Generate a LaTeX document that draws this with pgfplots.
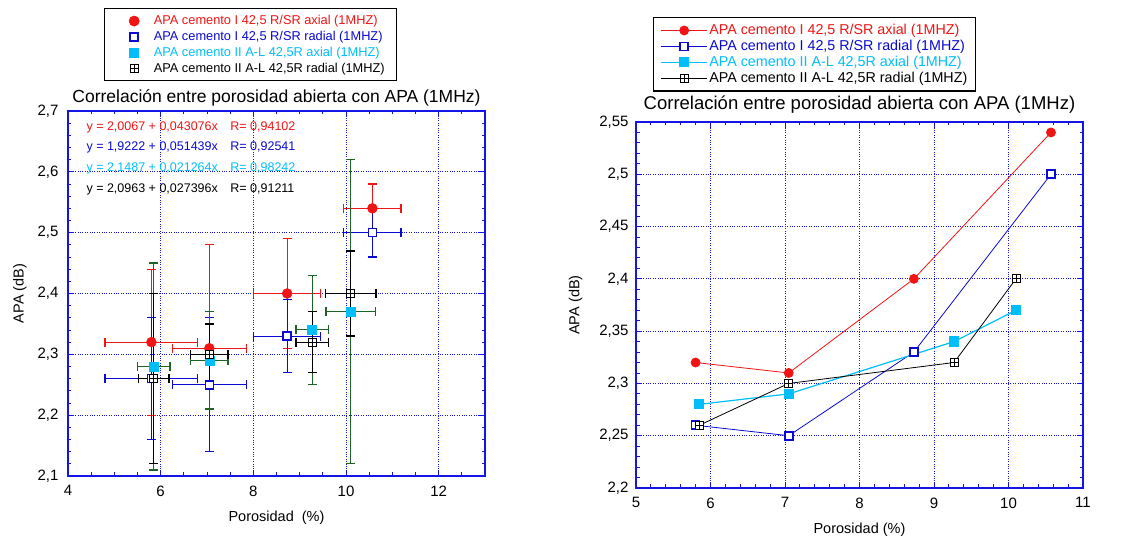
\documentclass[border=0pt]{standalone}
\usepackage{pgfplots}
\pgfplotsset{compat=1.18}
\usepackage{fontspec}
\setmainfont{Liberation Sans}
\definecolor{cRed}{RGB}{240,20,20}
\definecolor{cBlue}{RGB}{10,10,210}
\definecolor{cCyan}{RGB}{0,190,250}
\definecolor{cGreen}{RGB}{30,100,40}
\definecolor{frameBlue}{RGB}{20,20,230}

\pgfdeclareplotmark{boxplus}{%
  \pgfpathrectangle{\pgfpoint{-\pgfplotmarksize}{-\pgfplotmarksize}}{\pgfpoint{2\pgfplotmarksize}{2\pgfplotmarksize}}%
  \pgfusepathqfillstroke
  \pgfpathmoveto{\pgfpoint{-\pgfplotmarksize}{0pt}}\pgfpathlineto{\pgfpoint{\pgfplotmarksize}{0pt}}%
  \pgfpathmoveto{\pgfpoint{0pt}{-\pgfplotmarksize}}\pgfpathlineto{\pgfpoint{0pt}{\pgfplotmarksize}}%
  \pgfusepathqstroke}

\pgfplotstableread{
x y ex ey
5.80 2.32 1.00 0.12
7.05 2.31 0.80 0.17
8.73 2.40 0.72 0.09
10.57 2.54 0.62 0.04
}\redtab
\pgfplotstableread{
x y ex ey
5.80 2.26 1.00 0.10
7.05 2.25 0.80 0.11
8.73 2.33 0.72 0.06
10.57 2.50 0.62 0.04
}\bluetab
\pgfplotstableread{
x y ex ey
5.85 2.28 0.35 0.17
7.05 2.29 0.40 0.08
9.27 2.34 0.35 0.09
10.10 2.37 0.53 0.25
}\cyantab
\pgfplotstableread{
x y ex ey
5.85 2.26 0.33 0.14
7.05 2.30 0.40 0.05
9.27 2.32 0.35 0.05
10.10 2.40 0.55 0.07
}\blacktab

\pgfplotsset{
  refstyle/.style={
    scale only axis,
    axis line style={frameBlue, line width=1.6pt},
    tick style={frameBlue, line width=0.9pt},
    major tick length=6pt, minor tick length=3.5pt,
    tick align=inside,
    grid=major,
    grid style={frameBlue, dotted, line width=1pt},
    ticklabel style={font=\fontsize{15}{17}\selectfont},
    xticklabel style={yshift=-6pt},
    label style={font=\fontsize{14.5}{17}\selectfont},
    /pgf/number format/assume math mode=true,
    /pgf/number format/use comma,
    /pgf/number format/fixed,
    /pgf/number format/precision=2,
    clip=false,
  },
  ebars/.style={error bars/.cd, x dir=both, x explicit, y dir=both, y explicit,
    error bar style={line width=1pt, #1},
    error mark options={rotate=90, mark size=4.5pt, line width=1.3pt, #1}},
}

\begin{document}
\begin{tikzpicture}
\useasboundingbox (0pt,0pt) rectangle (1133pt,540pt);

% ---------- Left axis ----------
\begin{axis}[refstyle,
  at={(68pt,64pt)}, anchor=south west,
  width=417pt, height=365pt,
  xmin=4, xmax=13, ymin=2.1, ymax=2.7,
  xtick={4,6,8,10,12},
  ytick={2.1,2.2,2.3,2.4,2.5,2.6,2.7},
  minor xtick={4.5,5,5.5,6.5,7,7.5,8.5,9,9.5,10.5,11,11.5,12.5},
  minor ytick={2.12,2.14,2.16,2.18,2.22,2.24,2.26,2.28,2.32,2.34,2.36,2.38,2.42,2.44,2.46,2.48,2.52,2.54,2.56,2.58,2.62,2.64,2.66,2.68},
  yticklabel style={xshift=-6pt},
  xlabel={Porosidad \ (\%)}, ylabel={APA (dB)},
  xlabel style={yshift=-8pt},
  ylabel style={yshift=4pt},
  title={Correlación entre porosidad abierta con APA (1MHz)},
  title style={font=\fontsize{17.5}{20}\selectfont, anchor=base, at={(0.5,1)}, yshift=2pt},
  legend style={at={(0.0863,1.282)}, anchor=north west, draw=black, line width=1.2pt, fill=white,
    font=\fontsize{12.8}{15}\selectfont, cells={anchor=west}, inner xsep=10pt, inner ysep=5pt,
    row sep=1pt},
  legend image code/.code={\path (0pt,0pt) (36pt,0pt); \draw[#1,line width=0.8pt] plot coordinates {(19pt,0pt)};},
]
\addplot[only marks, color=cRed, mark=*, mark size=5pt, ebars=cRed] table[x=x,y=y,x error=ex,y error=ey] {\redtab};
\addlegendentry{\textcolor{cRed}{APA cemento I 42,5 R/SR axial (1MHZ)}}
\addplot[only marks, color=cBlue, mark=square*, mark size=4pt, mark options={fill=white, line width=1.6pt}, ebars=cBlue] table[x=x,y=y,x error=ex,y error=ey] {\bluetab};
\addlegendentry{\textcolor{cBlue}{APA cemento I 42,5 R/SR radial (1MHZ)}}
\addplot[only marks, color=cCyan, mark=square*, mark size=4.5pt, ebars=cGreen] table[x=x,y=y,x error=ex,y error=ey] {\cyantab};
\addlegendentry{\textcolor{cCyan}{APA cemento II A-L 42,5R axial (1MHZ)}}
\addplot[only marks, color=black, mark=boxplus, mark size=4pt, mark options={fill=white, line width=0.9pt}, ebars=black] table[x=x,y=y,x error=ex,y error=ey] {\blacktab};
\addlegendentry{\textcolor{black}{APA cemento II A-L 42,5R radial (1MHZ)}}

\node[anchor=west, font=\fontsize{12.5}{14}\selectfont, text=cRed] at (rel axis cs:0.036,0.956) {y = 2,0067 + 0,043076x\quad R= 0,94102};
\node[anchor=west, font=\fontsize{12.5}{14}\selectfont, text=cBlue] at (rel axis cs:0.036,0.901) {y = 1,9222 + 0,051439x\quad R= 0,92541};
\node[anchor=west, font=\fontsize{12.5}{14}\selectfont, text=cCyan] at (rel axis cs:0.036,0.843) {y = 2,1487 + 0,021264x\quad R= 0,98242};
\node[anchor=west, font=\fontsize{12.5}{14}\selectfont, text=black] at (rel axis cs:0.036,0.784) {y = 2,0963 + 0,027396x\quad R= 0,91211};
\end{axis}

% ---------- Right axis ----------
\begin{axis}[refstyle,
  at={(636pt,52pt)}, anchor=south west,
  width=447pt, height=366pt,
  xmin=5, xmax=11, ymin=2.2, ymax=2.55,
  xtick={5,6,7,8,9,10,11},
  ytick={2.2,2.25,2.3,2.35,2.4,2.45,2.5,2.55},
  minor x tick num=4,
  minor y tick num=4,
  yticklabel style={xshift=-4pt},
  xlabel={Porosidad (\%)}, ylabel={APA (dB)},
  xlabel style={yshift=-8pt},
  ylabel style={yshift=10pt},
  title={Correlación entre porosidad abierta con APA (1MHz)},
  title style={font=\fontsize{18.5}{21}\selectfont, anchor=base, at={(0.5,1)}, yshift=6pt},
  legend style={at={(0.038,1.287)}, anchor=north west, draw=black, line width=1.2pt, fill=white,
    font=\fontsize{14.3}{16}\selectfont, cells={anchor=west}, inner xsep=7pt, inner ysep=5pt,
    row sep=0pt, nodes={inner xsep=1.5pt}},
  legend image code/.code={\draw[#1,mark repeat=2,mark phase=2] plot coordinates {(0pt,0pt) (23pt,0pt) (46pt,0pt)};},
]
\addplot[color=cRed, line width=0.8pt, mark=*, mark size=4.5pt, mark options={solid}] table[x=x,y=y] {\redtab};
\addlegendentry{\textcolor{cRed}{APA cemento I 42,5 R/SR axial (1MHZ)}}
\addplot[color=cBlue, line width=0.8pt, mark=square*, mark size=4pt, mark options={fill=white, line width=1.6pt}] table[x=x,y=y] {\bluetab};
\addlegendentry{\textcolor{cBlue}{APA cemento I 42,5 R/SR radial (1MHZ)}}
\addplot[color=cCyan, line width=1.2pt, mark=square*, mark size=4.5pt] table[x=x,y=y] {\cyantab};
\addlegendentry{\textcolor{cCyan}{APA cemento II A-L 42,5R axial (1MHZ)}}
\addplot[color=black, line width=0.8pt, mark=boxplus, mark size=4pt, mark options={fill=white, line width=0.9pt}] table[x=x,y=y] {\blacktab};
\addlegendentry{\textcolor{black}{APA cemento II A-L 42,5R radial (1MHZ)}}
\end{axis}
\end{tikzpicture}
\end{document}
